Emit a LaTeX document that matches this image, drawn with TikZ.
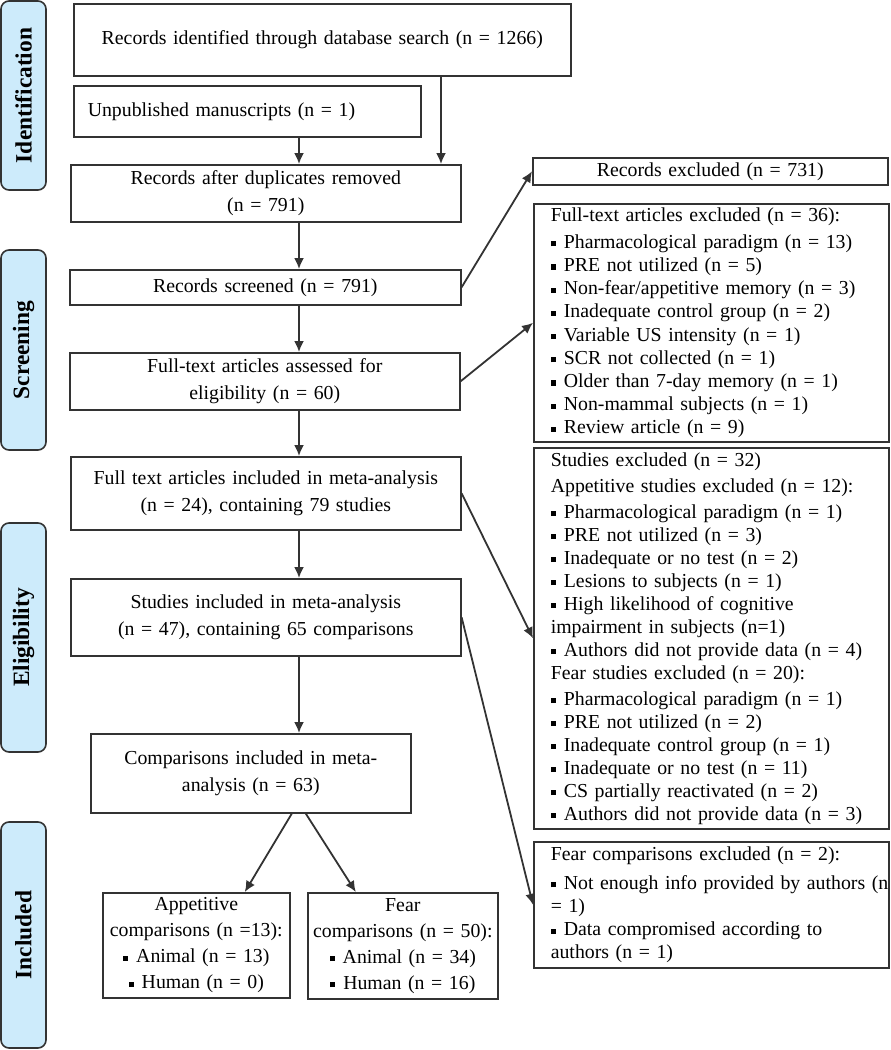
\documentclass[tikz,border=0pt]{standalone}
\usepackage{fontspec}
\setmainfont{Liberation Serif}
\usetikzlibrary{arrows.meta}
\definecolor{stagefill}{HTML}{CDEBFB}
\definecolor{edgegray}{HTML}{333333}
\newcommand{\sqb}{\rule[0.1em]{0.26em}{0.26em}\hspace{0.4em}}
\tikzset{
  box/.style={draw=edgegray, line width=0.8pt, anchor=north west, inner xsep=4pt, inner ysep=1pt,
    align=center, font=\fontsize{9.9}{13.5}\selectfont},
  exbox/.style={box, align=left, inner xsep=8.5pt, text width=160.5pt,
    font=\fontsize{9.9}{11.6}\selectfont},
  stage/.style={draw=edgegray, line width=0.8pt, fill=stagefill, rounded corners=4pt, rotate=90,
    minimum height=22.5pt, inner sep=0pt, font=\fontsize{11.7}{14}\selectfont\bfseries},
}
\begin{document}
\begin{tikzpicture}[x=0.5pt, y=-0.5pt]
  \useasboundingbox (0,0) rectangle (890,1050);
  % stages
  \draw
    (23.5,95.5) node[stage, minimum width=94.5pt] (s1){Identification}
    (23.5,350) node[stage, minimum width=100pt] (s2){Screening}
    (23.5,637.5) node[stage, minimum width=114.5pt] (s3){Eligibility}
    (23.5,935) node[stage, minimum width=113pt] (s4){Included};
  % main column
  \draw
    (73,3) node[box, text width=240.5pt, minimum height=36pt] (ident){Records identified through database search (n = 1266)}
    (73,85) node[box, align=left, inner xsep=7pt, text width=159.5pt, minimum height=25.5pt] (unpub){Unpublished manuscripts (n = 1)}
    (70,164) node[box, text width=187pt, minimum height=28.5pt] (dup){Records after duplicates removed\\(n = 791)}
    (69,269) node[box, text width=187.5pt, minimum height=17.5pt] (screen){Records screened (n = 791)}
    (69,352) node[box, text width=187pt, minimum height=28.5pt] (assess){Full-text articles assessed for\\eligibility (n = 60)}
    (70,456) node[box, text width=187pt, minimum height=36.5pt] (ftinc){Full text articles included in meta-analysis\\(n = 24), containing 79 studies}
    (70,578) node[box, text width=187pt, minimum height=38.5pt] (studinc){Studies included in meta-analysis\\(n = 47), containing 65 comparisons}
    (90,733) node[box, text width=152pt, minimum height=39.5pt] (comp){Comparisons included in meta-\\analysis (n = 63)}
    (102,892) node[box, inner xsep=1pt, text width=91.5pt, minimum height=52.5pt, font=\fontsize{9.9}{13}\selectfont] (appet){Appetitive\\comparisons (n =13):\\\sqb Animal (n = 13)\\\sqb Human (n = 0)}
    (307,892) node[box, inner xsep=1pt, text width=93pt, minimum height=53pt, font=\fontsize{9.9}{13}\selectfont] (fear){Fear\\comparisons (n = 50):\\\sqb Animal (n = 34)\\\sqb Human (n = 16)};
  % exclusions
  \draw
    (532,157) node[box, text width=169.5pt, minimum height=13.5pt] (recexcl){Records excluded (n = 731)}
    (533,203) node[exbox, minimum height=119pt] (ftexcl){Full-text articles excluded (n = 36):\\[2pt]
      \sqb Pharmacological paradigm (n = 13)\\
      \sqb PRE not utilized (n = 5)\\
      \sqb Non-fear/appetitive memory (n = 3)\\
      \sqb Inadequate control group (n = 2)\\
      \sqb Variable US intensity (n = 1)\\
      \sqb SCR not collected (n = 1)\\
      \sqb Older than 7-day memory (n = 1)\\
      \sqb Non-mammal subjects (n = 1)\\
      \sqb Review article (n = 9)}
    (533,447) node[exbox, minimum height=190.5pt, font=\fontsize{9.9}{11.5}\selectfont] (studexcl){Studies excluded (n = 32)\\[1.5pt]
      Appetitive studies excluded (n = 12):\\[1.5pt]
      \sqb Pharmacological paradigm (n = 1)\\
      \sqb PRE not utilized (n = 3)\\
      \sqb Inadequate or no test (n = 2)\\
      \sqb Lesions to subjects (n = 1)\\
      \sqb High likelihood of cognitive\\
      impairment in subjects (n=1)\\
      \sqb Authors did not provide data (n = 4)\\
      Fear studies excluded (n = 20):\\[1.5pt]
      \sqb Pharmacological paradigm (n = 1)\\
      \sqb PRE not utilized (n = 2)\\
      \sqb Inadequate control group (n = 1)\\
      \sqb Inadequate or no test (n = 11)\\
      \sqb CS partially reactivated (n = 2)\\
      \sqb Authors did not provide data (n = 3)}
    (533,841) node[exbox, minimum height=63pt] (fearexcl){Fear comparisons excluded (n = 2):\\[3pt]
      \mbox{\sqb Not enough info provided by authors (n}\\
      = 1)\\
      \sqb Data compromised according to\\
      authors (n = 1)};
  \coordinate (spine) at (299,0);
  \coordinate (dbline) at (441,0);
  \begin{scope}[-{Latex[length=5.5pt,width=5pt]}, line width=0.9pt, draw=edgegray]
    \draw (ident.south -| dbline) to (dup.north -| dbline);
    \draw (unpub.south -| spine) to (dup.north -| spine);
    \draw (dup.south -| spine) to (screen.north -| spine);
    \draw (screen.south -| spine) to (assess.north -| spine);
    \draw (assess.south -| spine) to (ftinc.north -| spine);
    \draw (ftinc.south -| spine) to (studinc.north -| spine);
    \draw (studinc.south -| spine) to (comp.north -| spine);
    \draw ([xshift=20.5pt]comp.south) to ([xshift=24.25pt]appet.north);
    \draw ([xshift=27.5pt]comp.south) to ([xshift=-23.5pt]fear.north);
    \draw (screen.east) to (recexcl.west);
    \draw (assess.east) to (ftexcl.west);
    \draw (ftinc.east) to (studexcl.west);
    \draw (studinc.east) to (fearexcl.west);
  \end{scope}
\end{tikzpicture}
\end{document}
